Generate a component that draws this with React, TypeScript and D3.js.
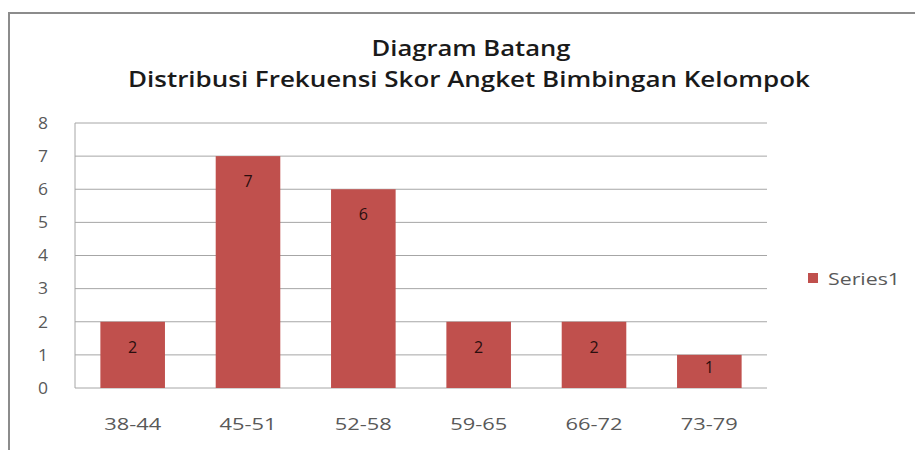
import React, { useEffect } from "react";
import * as d3 from "d3";

const titleLines = ["Diagram Batang", "Distribusi Frekuensi Skor Angket Bimbingan Kelompok"];
const categories = ["38-44", "45-51", "52-58", "59-65", "66-72", "73-79"];
const values = [2, 7, 6, 2, 2, 1];
const yTicks = [0, 1, 2, 3, 4, 5, 6, 7, 8];
const seriesName = "Series1";

const W = 915;
const H = 450;
const font = "'Open Sans', 'Noto Sans', sans-serif";
const barColor = "#C0504D";
const textGray = "#595959";

export default function App() {
  useEffect(() => {
    document.body.style.margin = "0";
  }, []);

  // plot area
  const left = 75;
  const right = 767;
  const top = 123;
  const bottom = 388;

  const x = d3.scaleBand<string>().domain(categories).range([left, right]).paddingInner(0.44).paddingOuter(0.22);
  const y = d3.scaleLinear().domain([0, 8]).range([bottom, top]);

  // the source picture is stretched sideways, so text gets a fixed length
  return (
    <svg width={W} height={H} style={{ display: "block", background: "#fff" }} fontFamily={font}>
      {/* outer chart border (cropped at right/bottom) */}
      <rect x={9} y={13} width={W + 20} height={H + 20} fill="#fff" stroke="#8c8c8c" strokeWidth={2} />

      {/* title */}
      <text x={471} y={56} textAnchor="middle" fontSize={22} fontWeight={600} fill="#1a1a1a"
        textLength={199} lengthAdjust="spacingAndGlyphs">
        {titleLines[0]}
      </text>
      <text x={469} y={87} textAnchor="middle" fontSize={21} fontWeight={600} fill="#1a1a1a"
        textLength={682} lengthAdjust="spacingAndGlyphs">
        {titleLines[1]}
      </text>

      {/* gridlines */}
      {yTicks.map((t) => (
        <line key={t} x1={left} x2={right} y1={y(t)} y2={y(t)} stroke="#a6a6a6" strokeWidth={1} />
      ))}
      <line x1={left} x2={left} y1={top} y2={bottom} stroke="#a6a6a6" strokeWidth={1} />

      {/* y tick labels */}
      {yTicks.map((t) => (
        <text key={t} x={43} y={y(t)} dy="0.36em" textAnchor="middle" fontSize={16} fill={textGray}
          textLength={10} lengthAdjust="spacingAndGlyphs">
          {t}
        </text>
      ))}

      {/* bars */}
      {categories.map((c, i) => {
        const h = y(0) - y(values[i]);
        return (
          <g key={c}>
            <rect x={x(c)} y={y(values[i])} width={x.bandwidth()} height={h} fill={barColor} />
            <text
              x={(x(c) as number) + x.bandwidth() / 2}
              y={y(values[i]) + Math.min(25, h / 2 - 4)}
              dy="0.36em"
              textAnchor="middle"
              fontSize={16}
              fill="#2a0e0e"
            >
              {values[i]}
            </text>
          </g>
        );
      })}

      {/* x labels */}
      {categories.map((c) => (
        <text key={c} x={(x(c) as number) + x.bandwidth() / 2} y={424} dy="0.36em" textAnchor="middle" fontSize={17}
          fill={textGray} textLength={57} lengthAdjust="spacingAndGlyphs">
          {c}
        </text>
      ))}

      {/* legend */}
      <rect x={808} y={273} width={10} height={10} fill={barColor} />
      <text x={828} y={279} dy="0.36em" fontSize={17} fill={textGray} textLength={72} lengthAdjust="spacingAndGlyphs">
        {seriesName}
      </text>
    </svg>
  );
}
